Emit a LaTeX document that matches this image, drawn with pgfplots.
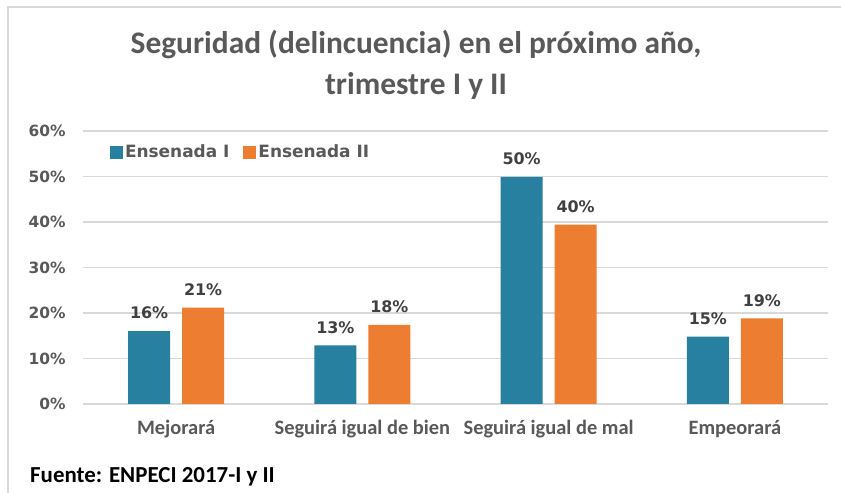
\documentclass[border=0pt]{standalone}
\usepackage{pgfplots}
\pgfplotsset{compat=1.18}
\usepackage{fontspec}
\setmainfont{Carlito}
\newfontfamily\dejavu{DejaVu Sans}
\definecolor{teal1}{RGB}{40,128,160}
\definecolor{orng}{RGB}{237,125,49}
\definecolor{txt}{RGB}{89,89,89}
\definecolor{lbl}{RGB}{64,64,64}
\definecolor{gridc}{RGB}{217,217,217}
\begin{document}
\begin{tikzpicture}
\path[use as bounding box] (0bp,0bp) rectangle (841bp,493bp);
\fill[white] (0bp,0bp) rectangle (841bp,493bp);
\draw[gridc, line width=2.5bp] (8bp,0bp) -- (8bp,486bp) -- (841bp,486bp);
\node[font=\bfseries\fontsize{31.5}{36}\selectfont, text=txt] at (416bp,448bp) {Seguridad (delincuencia) en el próximo año,};
\node[font=\bfseries\fontsize{31.5}{36}\selectfont, text=txt] at (416bp,407bp) {trimestre I y II};
\node[font=\bfseries\fontsize{23}{28}\selectfont, text=black, anchor=west, inner sep=0pt] at (30bp,16bp) {Fuente: ENPECI 2017-I y II};
\begin{axis}[
  at={(83bp,89bp)}, anchor=south west,
  scale only axis, width=745bp, height=273bp,
  ymin=0, ymax=60, xmin=-0.5, xmax=3.5,
  ytick={0,10,20,30,40,50,60},
  yticklabels={0\%,10\%,20\%,30\%,40\%,50\%,60\%},
  xtick={0,1,2,3},
  xticklabels={Mejorará, Seguirá igual de bien, Seguirá igual de mal, Empeorará},
  axis line style={draw=none},
  major tick length=0pt,
  ymajorgrids,
  grid style={gridc, line width=1.2bp},
  yticklabel style={font=\dejavu\bfseries\fontsize{15.5}{18}\selectfont, text=txt, xshift=-14bp},
  xticklabel style={font=\bfseries\fontsize{20.5}{24}\selectfont, text=txt, yshift=-13bp},
  ybar=12bp, bar width=42bp,
  nodes near coords,
  point meta=explicit symbolic,
  nodes near coords style={font=\dejavu\bfseries\fontsize{16}{19}\selectfont, text=lbl, yshift=8.5bp},
  legend style={at={(0.032,0.923)}, anchor=west, draw=none, fill=none,
    legend columns=2, font=\dejavu\bfseries\fontsize{17}{20}\selectfont, text=txt,
    /tikz/every even column/.append style={column sep=12bp}},
  legend image code/.code={\fill[#1] (0bp,-6.5bp) rectangle (13bp,6.5bp);},
]
\addplot[fill=teal1, draw=none] coordinates {(0,16.0) [16\%] (1,12.9) [13\%] (2,49.9) [50\%] (3,14.8) [15\%]};
\addplot[fill=orng, draw=none] coordinates {(0,21.2) [21\%] (1,17.4) [18\%] (2,39.4) [40\%] (3,18.8) [19\%]};
\legend{Ensenada I, Ensenada II}
\end{axis}
\end{tikzpicture}
\end{document}
